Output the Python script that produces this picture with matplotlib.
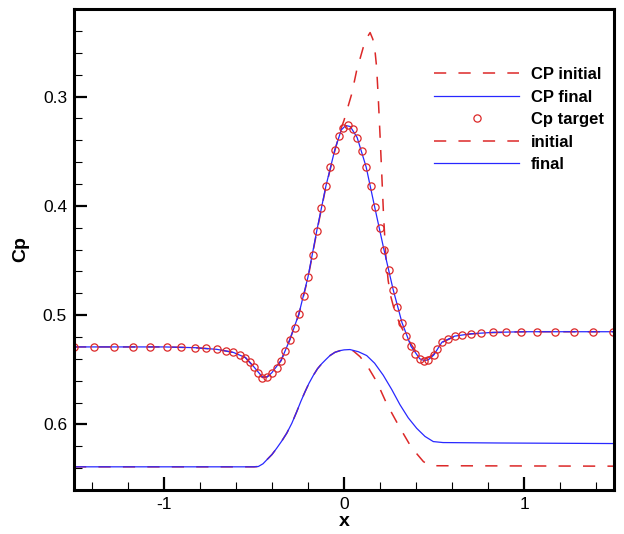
import matplotlib
matplotlib.use("Agg")

import numpy as np
import matplotlib.pyplot as plt
from matplotlib.ticker import MultipleLocator, FormatStrFormatter

plt.rcParams['font.family'] = ['Liberation Sans', 'DejaVu Sans']

# Cp target (circles)
x_target = [-1.5, -1.388, -1.28, -1.174, -1.077, -0.985, -0.905, -0.828, -0.767, -0.707,
            -0.656, -0.615, -0.579, -0.548, -0.524, -0.502, -0.476, -0.454, -0.427, -0.401,
            -0.374, -0.35, -0.326, -0.302, -0.275, -0.251, -0.225, -0.2, -0.174, -0.152,
            -0.128, -0.101, -0.077, -0.051, -0.029, -0.004, 0.024, 0.048, 0.073, 0.099,
            0.123, 0.148, 0.17, 0.198, 0.222, 0.249, 0.273, 0.297, 0.322, 0.346,
            0.372, 0.396, 0.421, 0.445, 0.467, 0.498, 0.518, 0.544, 0.575, 0.615,
            0.656, 0.705, 0.76, 0.826, 0.901, 0.985, 1.073, 1.174, 1.275, 1.385, 1.496]
cp_target = [0.5291, 0.5291, 0.5291, 0.5291, 0.5291, 0.5291, 0.5295, 0.5298, 0.5304, 0.5313,
             0.5326, 0.5341, 0.5363, 0.5388, 0.5428, 0.5471, 0.5533, 0.5571, 0.5564, 0.5527,
             0.5481, 0.5416, 0.5332, 0.5229, 0.5121, 0.4991, 0.4829, 0.465, 0.4448, 0.4234,
             0.4023, 0.3822, 0.3642, 0.3487, 0.3363, 0.3285, 0.326, 0.3298, 0.3375, 0.3496,
             0.3645, 0.3822, 0.4008, 0.4206, 0.4402, 0.4591, 0.4767, 0.4926, 0.5068, 0.5192,
             0.5285, 0.5357, 0.54, 0.5419, 0.5409, 0.5366, 0.5307, 0.5248, 0.5214, 0.5192,
             0.5183, 0.5171, 0.5164, 0.5158, 0.5155, 0.5152, 0.5152, 0.5152, 0.5152, 0.5152, 0.5152]

# CP final (blue solid) - follows the target closely
x_cp_final = [-1.5, -1.0, -0.828, -0.707, -0.615, -0.548, -0.502, -0.454, -0.427, -0.401,
              -0.35, -0.302, -0.251, -0.2, -0.152, -0.101, -0.051, -0.015, 0.01, 0.035,
              0.073, 0.123, 0.17, 0.222, 0.273, 0.322, 0.372, 0.421, 0.445, 0.467,
              0.498, 0.544, 0.615, 0.705, 0.826, 1.0, 1.5]
cp_final = [0.5291, 0.5291, 0.5298, 0.5313, 0.5341, 0.5388, 0.5471, 0.5565, 0.5566, 0.5527,
            0.5416, 0.5229, 0.4991, 0.465, 0.4234, 0.3822, 0.3487, 0.3305, 0.3265, 0.3275,
            0.3375, 0.3645, 0.4008, 0.4402, 0.4767, 0.5068, 0.5285, 0.54, 0.5415, 0.541,
            0.5366, 0.5248, 0.5192, 0.5171, 0.5158, 0.5152, 0.5152]

# CP initial (red dashed)
x_cp_init = [-1.5, -1.0, -0.828, -0.707, -0.615, -0.548, -0.502, -0.454, -0.427, -0.401,
             -0.35, -0.302, -0.251, -0.2, -0.152, -0.101, -0.051, -0.02, 0.0, 0.043,
             0.07, 0.107, 0.13, 0.145, 0.16, 0.172, 0.181, 0.19, 0.2, 0.21,
             0.22, 0.232, 0.245, 0.26, 0.285, 0.32, 0.361, 0.4, 0.43, 0.46,
             0.498, 0.544, 0.615, 0.705, 0.826, 1.0, 1.5]
cp_init = [0.5291, 0.5291, 0.5298, 0.5313, 0.5341, 0.5388, 0.5471, 0.5571, 0.5564, 0.5527,
           0.5416, 0.5229, 0.4995, 0.466, 0.4245, 0.383, 0.3495, 0.331, 0.3218, 0.2975,
           0.2764, 0.255, 0.2455, 0.2415, 0.2475, 0.258, 0.273, 0.300, 0.335, 0.372,
           0.410, 0.445, 0.468, 0.483, 0.4985, 0.5115, 0.5235, 0.5335, 0.5385, 0.5395,
           0.536, 0.525, 0.5195, 0.5172, 0.516, 0.5152, 0.5152]

# geometry curves (bottom)
x_geo_init = [-1.5, -0.5, -0.476, -0.45, -0.429, -0.4, -0.374, -0.345, -0.318, -0.29,
              -0.263, -0.24, -0.217, -0.195, -0.17, -0.147, -0.124, -0.1, -0.078, -0.05,
              -0.022, 0.0, 0.025, 0.052, 0.089, 0.135, 0.182, 0.237, 0.27, 0.302,
              0.335, 0.367, 0.405, 0.441, 0.47, 0.496, 1.5]
geo_init = [0.6388, 0.6388, 0.6385, 0.636, 0.6324, 0.6275, 0.6218, 0.615, 0.608, 0.599,
            0.5885, 0.579, 0.5703, 0.5625, 0.555, 0.549, 0.5445, 0.5405, 0.537, 0.534,
            0.5325, 0.5318, 0.5318, 0.5328, 0.538, 0.548, 0.561, 0.581, 0.591, 0.6006,
            0.610, 0.619, 0.627, 0.634, 0.637, 0.6378, 0.6382]

x_geo_final = [-1.5, -0.5, -0.476, -0.45, -0.429, -0.4, -0.374, -0.345, -0.318, -0.29,
               -0.263, -0.24, -0.217, -0.195, -0.17, -0.147, -0.124, -0.1, -0.078, -0.05,
               -0.022, 0.0, 0.033, 0.08, 0.126, 0.17, 0.218, 0.265, 0.311, 0.357,
               0.404, 0.45, 0.496, 0.55, 0.867, 1.5]
geo_final = [0.6388, 0.6388, 0.6385, 0.636, 0.6324, 0.6275, 0.6218, 0.615, 0.608, 0.599,
             0.5885, 0.579, 0.5703, 0.5625, 0.555, 0.549, 0.5445, 0.5405, 0.537, 0.534,
             0.5325, 0.5318, 0.5315, 0.5335, 0.537, 0.544, 0.555, 0.568, 0.582, 0.594,
             0.6036, 0.611, 0.6157, 0.6166, 0.617, 0.6175]

red = '#dc2828'
blue = '#2828ff'

fig = plt.figure(figsize=(6.24, 5.34), dpi=100)
ax = fig.add_axes([0.1186, 0.0824, 0.8654, 0.9006])

dash = (0, (8, 8))
ax.plot(x_cp_init, cp_init, color=red, lw=1.1, linestyle=dash, label='CP initial')
ax.plot(x_cp_final, cp_final, color=blue, lw=0.9, label='CP final')
ax.plot(x_target, cp_target, linestyle='none', marker='o', ms=5.2, mfc='none',
        mec=red, mew=0.9, label='Cp target')
ax.plot(x_geo_init, geo_init, color=red, lw=1.1, linestyle=dash, label='initial')
ax.plot(x_geo_final, geo_final, color=blue, lw=0.9, label='final')

ax.set_xlim(-1.5, 1.5)
ax.set_ylim(0.66, 0.22)

ax.xaxis.set_major_locator(MultipleLocator(1))
ax.xaxis.set_minor_locator(MultipleLocator(0.2))
ax.yaxis.set_major_locator(MultipleLocator(0.1))
ax.yaxis.set_minor_locator(MultipleLocator(0.02))
ax.yaxis.set_major_formatter(FormatStrFormatter('%.1f'))
ax.xaxis.set_major_formatter(FormatStrFormatter('%g'))

ax.tick_params(which='major', direction='in', length=9.5, width=1.6, labelsize=12.5,
               pad=5, top=False, right=False)
ax.tick_params(which='minor', direction='in', length=5.5, width=0.8, top=False, right=False)
for s in ax.spines.values():
    s.set_linewidth(2.2)

ax.set_xlabel('x', fontsize=14, fontweight='bold', labelpad=1)
ax.set_ylabel('Cp', fontsize=14, fontweight='bold', labelpad=10)

leg = ax.legend(loc='upper right', bbox_to_anchor=(1.0, 0.9), frameon=False,
                prop={'weight': 'bold', 'size': 12}, handlelength=5.1, handletextpad=0.7,
                labelspacing=0.45, numpoints=1, borderaxespad=0.2)

fig.savefig('out.png', dpi=100)
